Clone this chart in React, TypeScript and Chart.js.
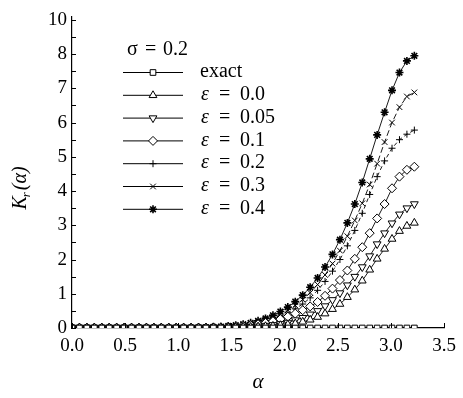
import React, { useEffect, useRef } from "react";
import { Chart, registerables } from "chart.js";
import * as helpers from "chart.js/helpers";

Chart.register(...registerables);

const alpha = [
  0.0, 0.07, 0.14, 0.21, 0.28, 0.35, 0.42, 0.49, 0.56, 0.63,
  0.7, 0.77, 0.84, 0.91, 0.98, 1.05, 1.12, 1.19, 1.26, 1.33,
  1.4, 1.47, 1.54, 1.61, 1.68, 1.75, 1.82, 1.89, 1.96, 2.03,
  2.1, 2.17, 2.24, 2.31, 2.38, 2.45, 2.52, 2.59, 2.66, 2.73,
  2.8, 2.87, 2.94, 3.01, 3.08, 3.15, 3.22,
];

const exact = [
  0, 0, 0, 0, 0, 0, 0, 0, 0, 0,
  0, 0, 0, 0, 0, 0, 0, 0, 0, 0,
  0, 0, 0, 0, 0, 0, 0, 0, 0, 0,
  0, 0, 0, 0, 0, 0, 0, 0, 0, 0,
  0, 0, 0, 0, 0, 0, 0,
];
const eps00 = [
  0.01, 0.01, 0.01, 0.01, 0.01, 0.01, 0.01, 0.01, 0.01, 0.01,
  0.01, 0.01, 0.01, 0.01, 0.01, 0.01, 0.01, 0.01, 0.01, 0.01,
  0.01, 0.02, 0.02, 0.03, 0.03, 0.04, 0.05, 0.06, 0.08, 0.10,
  0.13, 0.18, 0.24, 0.32, 0.42, 0.55, 0.70, 0.90, 1.12, 1.38,
  1.70, 2.02, 2.31, 2.60, 2.83, 2.98, 3.07,
];
const eps005 = [
  0.01, 0.01, 0.01, 0.01, 0.01, 0.01, 0.01, 0.01, 0.01, 0.01,
  0.01, 0.01, 0.01, 0.01, 0.01, 0.01, 0.01, 0.01, 0.01, 0.01,
  0.01, 0.02, 0.03, 0.03, 0.04, 0.05, 0.07, 0.09, 0.12, 0.16,
  0.23, 0.30, 0.40, 0.50, 0.64, 0.82, 1.02, 1.25, 1.50, 1.78,
  2.10, 2.45, 2.77, 3.06, 3.32, 3.50, 3.62,
];
const eps01 = [
  0.01, 0.01, 0.01, 0.01, 0.01, 0.01, 0.01, 0.01, 0.01, 0.01,
  0.01, 0.01, 0.01, 0.01, 0.01, 0.01, 0.01, 0.01, 0.01, 0.02,
  0.02, 0.03, 0.04, 0.06, 0.08, 0.11, 0.15, 0.20, 0.26, 0.33,
  0.42, 0.52, 0.63, 0.76, 0.94, 1.15, 1.40, 1.68, 2.02, 2.36,
  2.77, 3.20, 3.62, 4.08, 4.42, 4.62, 4.71,
];
const eps02 = [
  0.01, 0.01, 0.01, 0.01, 0.01, 0.01, 0.01, 0.01, 0.01, 0.01,
  0.01, 0.01, 0.01, 0.01, 0.01, 0.01, 0.01, 0.01, 0.01, 0.02,
  0.02, 0.03, 0.05, 0.07, 0.10, 0.14, 0.19, 0.26, 0.34, 0.44,
  0.56, 0.70, 0.88, 1.10, 1.36, 1.66, 2.00, 2.40, 2.85, 3.35,
  3.90, 4.42, 4.88, 5.25, 5.50, 5.66, 5.78,
];
const eps03 = [
  0.01, 0.01, 0.01, 0.01, 0.01, 0.01, 0.01, 0.01, 0.01, 0.01,
  0.01, 0.01, 0.01, 0.01, 0.01, 0.01, 0.01, 0.01, 0.02, 0.02,
  0.03, 0.04, 0.06, 0.09, 0.12, 0.17, 0.23, 0.31, 0.41, 0.52,
  0.66, 0.83, 1.03, 1.27, 1.55, 1.88, 2.26, 2.68, 3.14, 3.64,
  4.19, 4.80, 5.43, 6.00, 6.45, 6.76, 6.88,
];
const eps04 = [
  0.01, 0.01, 0.01, 0.01, 0.01, 0.01, 0.01, 0.01, 0.01, 0.01,
  0.01, 0.01, 0.01, 0.01, 0.01, 0.01, 0.01, 0.02, 0.02, 0.03,
  0.04, 0.06, 0.08, 0.11, 0.15, 0.21, 0.28, 0.37, 0.48, 0.61,
  0.77, 0.96, 1.19, 1.46, 1.78, 2.15, 2.58, 3.07, 3.62, 4.25,
  4.94, 5.64, 6.30, 6.94, 7.46, 7.80, 7.95,
];

const seriesNames = ["exact", "0.0", "0.05", "0.1", "0.2", "0.3", "0.4"];
const seriesValues = [exact, eps00, eps005, eps01, eps02, eps03, eps04];

const xTickValues = [0, 0.5, 1.0, 1.5, 2.0, 2.5, 3.0, 3.5];
const xTickLabels = ["0.0", "0.5", "1.0", "1.5", "2.0", "2.5", "3.0", "3.5"];
const yTickValues = [0, 1, 2, 3, 4, 5, 6, 7, 8, 9];
const yTickLabels = ["0", "1", "2", "3", "4", "5", "6", "7", "8", "10"];
const yMarkValues = [0, 0.5, 1, 1.5, 2, 2.5, 3, 3.5, 4, 4.5, 5, 5.5, 6, 6.5, 7, 7.5, 8, 8.5, 9];
const sigmaSymbol = "σ";
const sigmaValue = "0.2";

const styles = [
  { pointStyle: "rect", radius: 4, rotation: 0, dash: [] as number[], bw: 1 },
  { pointStyle: "triangle", radius: 4.5, rotation: 0, dash: [], bw: 1 },
  { pointStyle: "triangle", radius: 4.5, rotation: 180, dash: [], bw: 1 },
  { pointStyle: "rectRot", radius: 4.5, rotation: 0, dash: [], bw: 1 },
  { pointStyle: "cross", radius: 3.5, rotation: 0, dash: [4, 3], bw: 1 },
  { pointStyle: "crossRot", radius: 4, rotation: 0, dash: [6, 3], bw: 1 },
  { pointStyle: "star", radius: 4, rotation: 0, dash: [], bw: 1.6 },
];

const SERIF = "'Liberation Serif', 'Times New Roman', 'DejaVu Serif', serif";

const decor = {
  id: "decor",
  afterDraw(chart: any) {
    const ctx = chart.ctx as CanvasRenderingContext2D;
    const xs = chart.scales.x;
    const ys = chart.scales.y;
    const area = chart.chartArea;
    ctx.save();
    ctx.strokeStyle = "#000";
    ctx.fillStyle = "#000";
    ctx.lineWidth = 1;
    for (const v of yMarkValues) {
      const py = Math.round(ys.getPixelForValue(v)) + 0.5;
      ctx.beginPath();
      ctx.moveTo(area.left, py);
      ctx.lineTo(area.left + 4, py);
      ctx.stroke();
    }
    for (const v of xTickValues) {
      const px = Math.round(xs.getPixelForValue(v)) + 0.5;
      ctx.beginPath();
      ctx.moveTo(px, area.bottom);
      ctx.lineTo(px, area.bottom - 5);
      ctx.stroke();
    }
    // x title
    ctx.font = `italic 21px ${SERIF}`;
    ctx.textAlign = "center";
    ctx.textBaseline = "middle";
    ctx.fillText("α", (area.left + area.right) / 2, 382);
    // y title: K_r(α)
    ctx.save();
    ctx.translate(19, 188);
    ctx.rotate(-Math.PI / 2);
    ctx.textAlign = "left";
    ctx.textBaseline = "alphabetic";
    const big = `italic 20px ${SERIF}`;
    const small = `italic 13px ${SERIF}`;
    ctx.font = big;
    const wK = ctx.measureText("K").width;
    const wP = ctx.measureText("(α)").width;
    ctx.font = small;
    const wr = ctx.measureText("r").width;
    const total = wK + wr + wP + 1;
    let cx = -total / 2;
    ctx.font = big;
    ctx.fillText("K", cx, 7);
    cx += wK;
    ctx.font = small;
    ctx.fillText("r", cx - 1, 11);
    cx += wr + 1;
    ctx.font = big;
    ctx.fillText("(α)", cx, 7);
    ctx.restore();

    // legend
    ctx.textAlign = "left";
    ctx.textBaseline = "middle";
    ctx.font = `20px ${SERIF}`;
    ctx.fillText(sigmaSymbol, 127, 50);
    ctx.fillText("=", 145, 50);
    ctx.fillText(sigmaValue, 163, 50);
    seriesNames.forEach((name, i) => {
      const y = 72 + i * 22.8;
      const st = styles[i];
      ctx.setLineDash([]);
      ctx.lineWidth = 1;
      ctx.strokeStyle = "#000";
      ctx.beginPath();
      ctx.moveTo(123, y + 0.5);
      ctx.lineTo(183, y + 0.5);
      ctx.stroke();
      ctx.fillStyle = "#fff";
      ctx.lineWidth = st.bw;
      helpers.drawPoint(
        ctx,
        { pointStyle: st.pointStyle, radius: st.radius, rotation: st.rotation, borderWidth: st.bw } as any,
        153,
        y + 0.5
      );
      ctx.fillStyle = "#000";
      if (i === 0) {
        ctx.font = `20px ${SERIF}`;
        ctx.fillText(name, 200, y);
      } else {
        ctx.font = `italic 20px ${SERIF}`;
        ctx.fillText("ε", 201, y);
        ctx.font = `20px ${SERIF}`;
        ctx.fillText("=", 219, y);
        ctx.fillText(name, 240, y);
      }
    });
    ctx.restore();
  },
};

export default function App() {
  const ref = useRef<HTMLCanvasElement | null>(null);
  useEffect(() => {
    if (!ref.current) return;
    const datasets = seriesValues.map((vals, i) => {
      const st = styles[i];
      return {
        label: seriesNames[i],
        data: alpha.map((a, j) => ({ x: a, y: vals[j] })),
        borderColor: "#000",
        borderWidth: 0.9,
        borderDash: st.dash,
        pointStyle: st.pointStyle,
        pointRadius: st.radius,
        pointRotation: st.rotation,
        pointBorderWidth: st.bw,
        pointBorderColor: "#000",
        pointBackgroundColor: "#fff",
        tension: 0,
        fill: false,
      };
    });
    const chart = new Chart(ref.current, {
      type: "line",
      data: { datasets: datasets as any },
      plugins: [decor],
      options: {
        responsive: false,
        animation: false,
        devicePixelRatio: 1,
        layout: { padding: { top: 13, right: 16, left: 0, bottom: 0 } },
        plugins: { legend: { display: false }, tooltip: { enabled: false } },
        scales: {
          x: {
            type: "linear",
            min: 0,
            max: 3.5,
            grid: { display: false, drawTicks: false },
            border: { display: true, color: "#000", width: 1.2 },
            afterFit: (s: any) => {
              s.height = 70;
            },
            afterBuildTicks: (s: any) => {
              s.ticks = xTickValues.map((v) => ({ value: v }));
            },
            ticks: {
              padding: 7,
              color: "#000",
              font: { family: SERIF, size: 19 },
              maxRotation: 0,
              autoSkip: false,
              callback: (v: any) => {
                const k = xTickValues.indexOf(Number(v));
                return k >= 0 ? xTickLabels[k] : "";
              },
            },
          },
          y: {
            type: "linear",
            min: 0,
            max: 9.1,
            grid: { display: false, drawTicks: false },
            border: { display: true, color: "#000", width: 1.2 },
            afterFit: (s: any) => {
              s.width = 72;
            },
            afterBuildTicks: (s: any) => {
              s.ticks = yTickValues.map((v) => ({ value: v }));
            },
            ticks: {
              padding: 5,
              color: "#000",
              font: { family: SERIF, size: 19 },
              autoSkip: false,
              callback: (v: any) => {
                const k = yTickValues.indexOf(Number(v));
                return k >= 0 ? yTickLabels[k] : "";
              },
            },
          },
        },
      },
    });
    return () => chart.destroy();
  }, []);
  return (
    <div style={{ position: "fixed", left: 0, top: 0, width: 463, height: 398, background: "#fff" }}>
      <canvas ref={ref} width={463} height={398} style={{ display: "block", width: 463, height: 398 }} />
    </div>
  );
}
